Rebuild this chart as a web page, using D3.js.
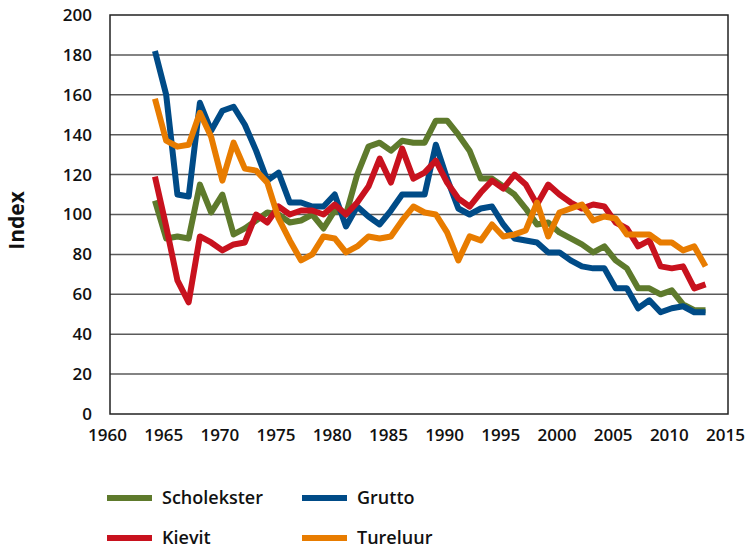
<!DOCTYPE html>
<html>
<head>
<meta charset="utf-8">
<script src="https://cdn.jsdelivr.net/npm/d3@7"></script>
<style>
  html, body { margin: 0; padding: 0; background: #fff; }
  svg { display: block; font-family: "Open Sans", "Noto Sans", sans-serif; }
</style>
</head>
<body>
<svg id="chart" width="745" height="550"></svg>
<script>
const years = d3.range(1964, 2014);
const scholekster = [107, 88, 89, 88, 115, 101, 110, 90, 93, 97,
  101, 100, 96, 97, 100, 93, 102, 100, 120, 134,
  136, 132, 137, 136, 136, 147, 147, 140, 132, 118,
  118, 114, 110, 103, 95, 96, 91, 88, 85, 81,
  84, 77, 73, 63, 63, 60, 62, 55, 52, 52];
const grutto = [182, 160, 110, 109, 156, 142, 152, 154, 145, 132,
  117, 121, 106, 106, 104, 104, 110, 94, 104, 99,
  95, 102, 110, 110, 110, 135, 118, 103, 100, 103,
  104, 95, 88, 87, 86, 81, 81, 77, 74, 73,
  73, 63, 63, 53, 57, 51, 53, 54, 51, 51];
const kievit = [119, 94, 67, 56, 89, 86, 82, 85, 86, 100,
  96, 104, 100, 102, 102, 100, 105, 100, 106, 114,
  128, 116, 133, 118, 121, 127, 116, 108, 104, 111,
  117, 113, 120, 115, 105, 115, 110, 106, 103, 105,
  104, 96, 93, 84, 87, 74, 73, 74, 63, 65];
const tureluur = [158, 137, 134, 135, 151, 139, 117, 136, 123, 122,
  116, 98, 87, 77, 80, 89, 88, 81, 84, 89,
  88, 89, 97, 104, 101, 100, 91, 77, 89, 87,
  95, 89, 90, 92, 106, 89, 101, 103, 105, 97,
  99, 98, 90, 90, 90, 86, 86, 82, 84, 74];
const seriesNames = ["Scholekster", "Grutto", "Kievit", "Tureluur"];
const seriesColors = ["#5E7A2C", "#004B87", "#C8121E", "#E87C00"];
const xTicks = d3.range(1960, 2016, 5);
const yTicks = d3.range(0, 201, 20);

const seriesValues = [scholekster, grutto, kievit, tureluur];

const svg = d3.select("#chart");
const pLeft = 110, pRight = 728, pTop = 15, pBottom = 414;

const x = d3.scaleLinear().domain([1960, 2015]).range([pLeft, pRight]);
const y = d3.scaleLinear().domain([0, 200]).range([pBottom, pTop]);

// gridlines
svg.append("g")
  .selectAll("line")
  .data(yTicks.filter(v => v > 0 && v < 200))
  .join("line")
  .attr("x1", pLeft).attr("x2", pRight)
  .attr("y1", d => y(d)).attr("y2", d => y(d))
  .attr("stroke", "#5a5a5a").attr("stroke-width", 1.5);

// frame
svg.append("rect")
  .attr("x", pLeft).attr("y", pTop)
  .attr("width", pRight - pLeft).attr("height", pBottom - pTop)
  .attr("fill", "none").attr("stroke", "#222").attr("stroke-width", 1.5);

// y axis labels
const yAxis = d3.axisLeft(y).tickValues(yTicks).tickSize(0).tickPadding(18);
const gy = svg.append("g").attr("transform", `translate(${pLeft},0)`).call(yAxis);
gy.select(".domain").remove();
gy.selectAll("text")
  .attr("font-family", "'Open Sans', sans-serif")
  .attr("font-size", 17).attr("font-weight", 600).attr("fill", "#111");

// x axis labels
const xAxis = d3.axisBottom(x).tickValues(xTicks).tickFormat(d3.format("d")).tickSize(0).tickPadding(15);
const gx = svg.append("g").attr("transform", `translate(0,${pBottom})`).call(xAxis);
gx.select(".domain").remove();
gx.selectAll("text")
  .attr("dx", -3)
  .attr("font-family", "'Open Sans', sans-serif")
  .attr("font-size", 17).attr("font-weight", 600).attr("fill", "#111");

// y title
svg.append("text")
  .attr("transform", `translate(24,${(pTop + pBottom) / 2 + 6}) rotate(-90)`)
  .attr("text-anchor", "middle")
  .attr("font-size", 21).attr("font-weight", 700).attr("fill", "#111")
  .text("Index");

// lines
const line = d3.line()
  .x((d, i) => x(years[i]))
  .y(d => y(d));

svg.append("g")
  .selectAll("path")
  .data(seriesValues)
  .join("path")
  .attr("d", d => line(d))
  .attr("fill", "none")
  .attr("stroke", (d, i) => seriesColors[i])
  .attr("stroke-width", 6)
  .attr("stroke-linejoin", "round");

// legend
const legendPos = [[107, 498], [302, 498], [107, 538], [302, 538]];
const lg = svg.append("g");
seriesNames.forEach((name, i) => {
  const [lx, ly] = legendPos[i];
  lg.append("line")
    .attr("x1", lx).attr("x2", lx + 45)
    .attr("y1", ly).attr("y2", ly)
    .attr("stroke", seriesColors[i]).attr("stroke-width", 6);
  lg.append("text")
    .attr("x", lx + 55).attr("y", ly + 6)
    .attr("font-size", 18).attr("font-weight", 600).attr("fill", "#111")
    .text(name);
});
</script>
</body>
</html>
